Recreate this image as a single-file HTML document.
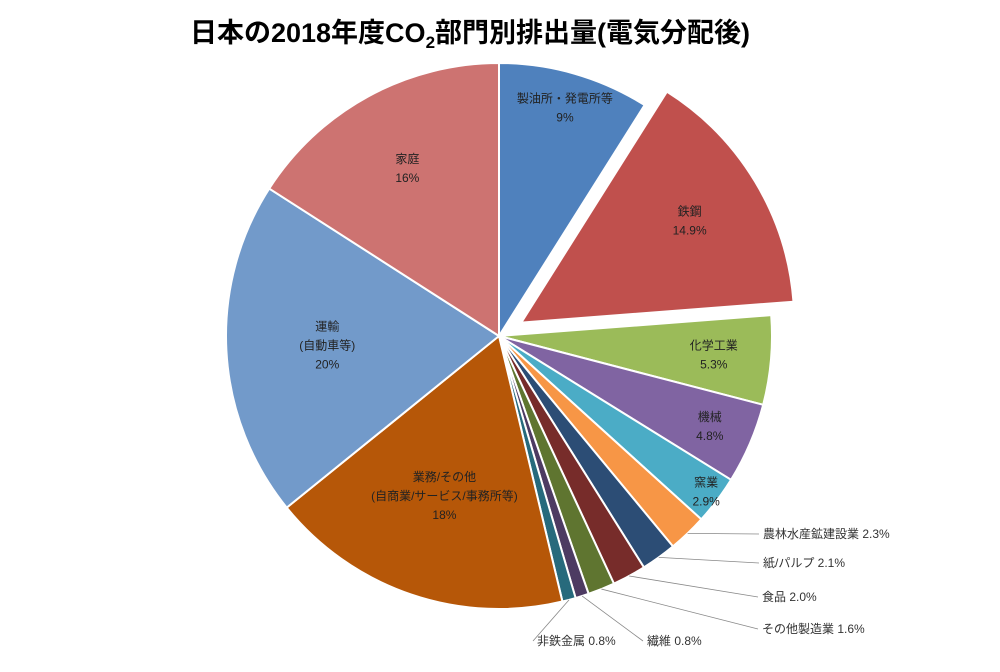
<!DOCTYPE html>
<html><head><meta charset="utf-8">
<style>
body{margin:0;background:#fff;}
svg text{font-family:"Liberation Sans","Noto Sans CJK JP",sans-serif;}
</style></head>
<body>
<svg id="chart" width="1000" height="667" viewBox="0 0 1000 667" xmlns="http://www.w3.org/2000/svg">
<rect width="1000" height="667" fill="#fff"/>
<text x="470" y="42" text-anchor="middle" font-size="27" font-weight="bold" fill="#000">日本の2018年度CO<tspan font-size="17" dy="6">2</tspan><tspan dy="-6">部門別排出量(電気分配後)</tspan></text>
<g id="slices"></g>
<g id="labels"></g>
</svg>
<script>
const categories=["製油所・発電所等","鉄鋼","化学工業","機械","窯業","農林水産鉱建設業","紙/パルプ","食品","その他製造業","繊維","非鉄金属","業務/その他\n(自商業/サービス/事務所等)","運輸\n(自動車等)","家庭"];
const values=[9,14.9,5.3,4.8,2.9,2.3,2.1,2.0,1.6,0.8,0.8,18,20,16];
const valueLabels=["9%","14.9%","5.3%","4.8%","2.9%","2.3%","2.1%","2.0%","1.6%","0.8%","0.8%","18%","20%","16%"];
const colors=["#4F81BD","#C0504D","#9BBB59","#8064A2","#4BACC6","#F79646","#2C4D75","#772C2A","#5F7530","#4D3B62","#276A7C","#B65708","#729ACA","#CD7371"];
const explode=[0,26,0,0,0,0,0,0,0,0,0,0,0,0];
const labelR=[0.87,0.72,0.79,0.84,0.95,0,0,0,0,0,0,0.62,0.63,0.7];
const outside=[null,null,null,null,null,[763,538,"start"],[763,567,"start"],[762,601,"start"],[762,633,"start"],[647,645,"start"],[537,645,"start"],null,null,null];
const cx=499,cy=336,R=273;
const NS="http://www.w3.org/2000/svg";
const total=values.reduce((a,b)=>a+b,0);
const sg=document.getElementById("slices"),lg=document.getElementById("labels");
function pt(a,r,ox,oy){return [ox+r*Math.sin(a),oy-r*Math.cos(a)];}
let acc=0;
values.forEach((v,i)=>{
  const a0=acc/total*2*Math.PI;acc+=v;const a1=acc/total*2*Math.PI;const am=(a0+a1)/2;
  const ox=cx+explode[i]*Math.sin(am),oy=cy-explode[i]*Math.cos(am);
  const p0=pt(a0,R,ox,oy),p1=pt(a1,R,ox,oy);
  const large=(a1-a0)>Math.PI?1:0;
  const path=document.createElementNS(NS,"path");
  path.setAttribute("d",`M${ox},${oy}L${p0[0]},${p0[1]}A${R},${R} 0 ${large} 1 ${p1[0]},${p1[1]}Z`);
  path.setAttribute("fill",colors[i]);path.setAttribute("stroke","#fff");path.setAttribute("stroke-width","2");
  
  
  sg.appendChild(path);
  if(outside[i]){
    const [lx,ly,anc]=outside[i];
    const e=pt(am,R,ox,oy);
    const line=document.createElementNS(NS,"polyline");
    const ex=anc==="start"?lx-4:lx;
    line.setAttribute("points",`${e[0]},${e[1]} ${ex},${ly-4}`);
    line.setAttribute("stroke","#888");line.setAttribute("fill","none");line.setAttribute("stroke-width","0.8");
    
    
    lg.appendChild(line);
    const t=document.createElementNS(NS,"text");
    t.setAttribute("x",lx);t.setAttribute("y",ly);t.setAttribute("font-size","12");t.setAttribute("fill","#333");t.setAttribute("text-anchor",anc);
    t.textContent=categories[i]+" "+valueLabels[i];
    
    
    lg.appendChild(t);
  } else {
    const c=pt(am,R*labelR[i],ox,oy);
    const lines=categories[i].split("\n").concat([valueLabels[i]]);
    const t=document.createElementNS(NS,"text");
    t.setAttribute("text-anchor","middle");t.setAttribute("font-size","12");t.setAttribute("fill","#222");
    
    
    const y0=c[1]-(lines.length-1)*9.5+4;
    lines.forEach((s,k)=>{const ts=document.createElementNS(NS,"tspan");ts.setAttribute("x",c[0]);ts.setAttribute("y",y0+k*19);ts.textContent=s;t.appendChild(ts);});
    lg.appendChild(t);
  }
});
</script>
</body></html>
